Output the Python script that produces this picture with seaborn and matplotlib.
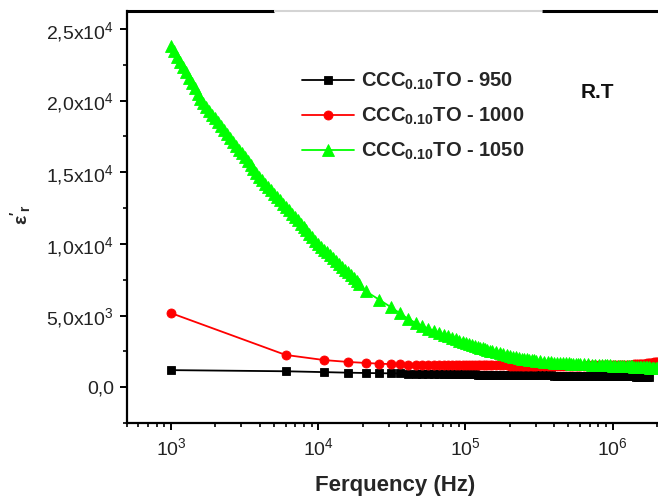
import matplotlib
matplotlib.use("Agg")
import matplotlib.pyplot as plt
from matplotlib.ticker import MultipleLocator, FixedLocator, NullFormatter
import pandas as pd
import seaborn as sns

# ---------------- data ----------------
freq = [1000, 6000, 11000, 16000,
        21000, 26000, 31000, 36000, 41000, 46000, 51000, 56000, 61000, 66000,
        71000, 76000, 81000, 86000, 91000, 96000,
        101000, 106000, 111000, 116000, 121000, 126000, 131000, 136000,
        141000, 146000, 151000,
        161000, 171000, 181000, 191000, 201000, 211000, 221000, 231000,
        241000, 251000, 261000, 271000, 281000, 291000, 301000,
        321000, 341000, 361000, 381000, 401000, 421000, 441000, 461000,
        481000, 501000, 521000, 541000, 561000, 581000, 601000,
        641000, 681000, 721000, 761000, 801000, 841000, 881000, 921000,
        961000, 1001000, 1041000, 1081000, 1121000, 1161000, 1201000,
        1241000, 1281000, 1321000, 1361000, 1401000, 1441000, 1481000,
        1521000, 1561000, 1601000, 1641000, 1681000, 1721000, 1761000,
        1801000, 1841000, 1881000, 1921000, 1961000, 2001000]

eps_950 = [1190, 1110, 1050, 1010,
           990, 975, 965, 955, 948, 942, 936, 930, 925, 920, 916, 912, 908,
           904, 900, 897,
           894, 891, 888, 885, 882, 880, 877, 875, 872, 870, 868,
           864, 860, 857, 854, 851, 849, 846, 844, 841, 839, 837, 835, 833,
           831, 829,
           826, 823, 820, 817, 814, 811, 809, 806, 804, 802, 800, 798, 796,
           794, 792,
           789, 786, 783, 780, 777, 775, 772, 770, 767, 765, 763, 761, 759,
           757, 755, 753, 751, 749, 747, 745, 743, 741, 739, 738, 737, 736,
           734, 733, 731]

eps_1000 = [5170, 2250, 1890, 1760,
            1690, 1640, 1610, 1590, 1575, 1565, 1558, 1552, 1547, 1543, 1540,
            1537, 1535, 1533, 1531, 1529,
            1527, 1526, 1524, 1523, 1522, 1521, 1520, 1519, 1518, 1518, 1517,
            1516, 1515, 1514, 1513, 1512, 1511, 1511, 1510, 1510, 1509, 1509,
            1509, 1508, 1508, 1508,
            1507, 1507, 1506, 1506, 1506, 1506, 1506, 1506, 1507, 1507, 1507,
            1508, 1508, 1509, 1510,
            1512, 1514, 1516, 1519, 1522, 1525, 1528, 1531, 1534, 1537,
            1541, 1545, 1549, 1553, 1558, 1563, 1568, 1573, 1579, 1585, 1591,
            1600, 1610, 1620, 1630, 1641, 1652, 1663, 1674, 1686, 1698, 1710,
            1722, 1734, 1746]

freq_1050_low = [1000, 1047, 1096, 1148, 1202, 1259, 1318, 1380, 1445, 1514,
                 1585, 1660, 1738, 1820, 1905, 1995, 2089, 2188, 2291, 2399,
                 2512, 2630, 2754, 2884, 3020, 3162, 3311, 3467, 3631, 3802,
                 3981, 4169, 4365, 4571, 4786, 5012, 5248, 5495, 5754, 6026,
                 6310, 6607, 6918, 7244, 7586, 7943, 8318, 8710, 9120, 9550,
                 10000, 10471, 10965, 11482, 12023, 12589, 13183, 13804,
                 14454, 15136, 15849, 16596, 17378, 18197, 19055]
eps_1050_low = [23800, 23430, 23060, 22700, 22330, 21960, 21590, 21220, 20850,
                20480, 20110, 19840, 19570, 19300, 19020, 18750, 18480, 18210,
                17940, 17670, 17400, 17120, 16850, 16580, 16310, 16040, 15770,
                15500, 15220, 14950, 14680, 14450, 14210, 13980, 13740, 13510,
                13280, 13040, 12810, 12570, 12340, 12110, 11870, 11640, 11400,
                11170, 10940, 10700, 10470, 10230, 10000, 9800, 9600, 9400,
                9200, 9000, 8800, 8600, 8400, 8210, 8010, 7810, 7610, 7410,
                7210]
eps_1050_high = [6700, 6100, 5600, 5150, 4750, 4480, 4260, 4080, 3930, 3790,
                 3660, 3540, 3430, 3330, 3240, 3160,
                 3080, 3010, 2940, 2870, 2810, 2750, 2700, 2650, 2600, 2555,
                 2510,
                 2430, 2360, 2290, 2230, 2170, 2120, 2080, 2040, 2000, 1970,
                 1940, 1915, 1890, 1870, 1850,
                 1815, 1785, 1760, 1740, 1720, 1705, 1690, 1677, 1665, 1655,
                 1645, 1636, 1628, 1620, 1613,
                 1600, 1588, 1577, 1567, 1557, 1548, 1539, 1530, 1521, 1512,
                 1505, 1498, 1491, 1484, 1477, 1470, 1463, 1456, 1449, 1442,
                 1435, 1428, 1421, 1414, 1407, 1400, 1393, 1386, 1379, 1372,
                 1365, 1358, 1351, 1344, 1337]

labels = [r"CCC$_{\mathbf{0.10}}$TO - 950",
          r"CCC$_{\mathbf{0.10}}$TO - 1000",
          r"CCC$_{\mathbf{0.10}}$TO - 1050"]
colors = ["#000000", "#ff0000", "#00ff00"]
markers = ["s", "o", "^"]
msizes = [6, 6.5, 8]

ytick_vals = [0, 5000, 10000, 15000, 20000, 25000]
ytick_labels = ["0,0", r"5,0x10$^{3}$", r"1,0x10$^{4}$", r"1,5x10$^{4}$",
                r"2,0x10$^{4}$", r"2,5x10$^{4}$"]
xtick_vals = [1e3, 1e4, 1e5, 1e6]
xtick_labels = [r"10$^{3}$", r"10$^{4}$", r"10$^{5}$", r"10$^{6}$"]

# ---------------- style ----------------
sns.set_style("ticks")
plt.rcParams["font.family"] = ["Liberation Sans", "DejaVu Sans"]
plt.rcParams["mathtext.fontset"] = "custom"
plt.rcParams["mathtext.rm"] = "Liberation Sans"
plt.rcParams["mathtext.it"] = "Liberation Sans:italic"
plt.rcParams["mathtext.bf"] = "Liberation Sans:bold"

fig = plt.figure(figsize=(6.58, 5.01), dpi=100)
W, H = 658.0, 501.0
ax_left, ax_right, ax_top, ax_bot = 126.7, 658.0, 11.0, 423.0
ax = fig.add_axes([ax_left / W, 1 - ax_bot / H, (ax_right - ax_left) / W,
                   (ax_bot - ax_top) / H])

series = [
    pd.DataFrame({"f": freq[:len(eps_950)], "e": eps_950}),
    pd.DataFrame({"f": freq[:len(eps_1000)], "e": eps_1000}),
    pd.DataFrame({"f": freq_1050_low + freq[4:4 + len(eps_1050_high)],
                  "e": eps_1050_low + eps_1050_high}),
]
for df, lab, c, m, ms in zip(series, labels, colors, markers, msizes):
    sns.lineplot(data=df, x="f", y="e", color=c, marker=m, markersize=ms,
                 linewidth=1.3, label=lab, estimator=None, sort=False, ax=ax,
                 markeredgewidth=0.6)
for ln in ax.lines:
    ln.set_markeredgecolor(ln.get_color())

ax.set_xscale("log")
ax.set_xlim(500, 2.03e6)
ax.set_ylim(-2500, 26250)

ax.set_xticks(xtick_vals, labels=xtick_labels)
ax.xaxis.set_minor_locator(FixedLocator(
    [k * 10 ** p for p in range(2, 7) for k in range(2, 10)]))
ax.xaxis.set_minor_formatter(NullFormatter())
ax.set_yticks(ytick_vals, labels=ytick_labels)
ax.yaxis.set_minor_locator(MultipleLocator(2500))

ax.tick_params(which="major", direction="out", length=5, width=1.4,
               color="black", labelsize=14, labelcolor="#222222", pad=4)
ax.tick_params(which="minor", direction="out", length=3, width=1.2,
               color="black")
ax.tick_params(axis="x", which="major", pad=5)

for s in ["left", "bottom"]:
    ax.spines[s].set_linewidth(1.6)
    ax.spines[s].set_color("black")
ax.spines["right"].set_visible(False)
ax.spines["top"].set_visible(False)
# top frame line: black, light gray, black
x1 = (274 - ax_left) / (ax_right - ax_left)
x2 = (542 - ax_left) / (ax_right - ax_left)
ax.plot([0, x1], [1, 1], transform=ax.transAxes, color="black", lw=2.2,
        clip_on=False, solid_capstyle="butt")
ax.plot([x1, x2], [1, 1], transform=ax.transAxes, color="#d4d4d4", lw=1.5,
        clip_on=False, solid_capstyle="butt")
ax.plot([x2, 1], [1, 1], transform=ax.transAxes, color="black", lw=2.2,
        clip_on=False, solid_capstyle="butt")

ax.set_xlabel("Ferquency (Hz)", fontsize=16, fontweight="bold")
ax.xaxis.set_label_coords((395 - ax_left) / (ax_right - ax_left),
                          (ax_bot - 475) / (ax_bot - ax_top))
ax.set_ylabel(r"$\mathbf{\varepsilon'_{r}}$", fontsize=14)
ax.yaxis.set_label_coords((33 - ax_left) / (ax_right - ax_left),
                          (ax_bot - 215) / (ax_bot - ax_top))

handles, labs = ax.get_legend_handles_labels()
ax.legend(handles, labs, loc="upper left",
          bbox_to_anchor=(302 / W, 1 - 71 / H), bbox_transform=fig.transFigure,
          frameon=False, prop={"weight": "bold", "size": 14.5},
          handlelength=2.6, handletextpad=0.35, labelspacing=0.68,
          borderpad=0, borderaxespad=0)

fig.text(597 / W, 1 - 93 / H, "R.T", fontsize=15, fontweight="bold",
         ha="center", va="center", color="#111111")

fig.savefig("out.png", dpi=100)
